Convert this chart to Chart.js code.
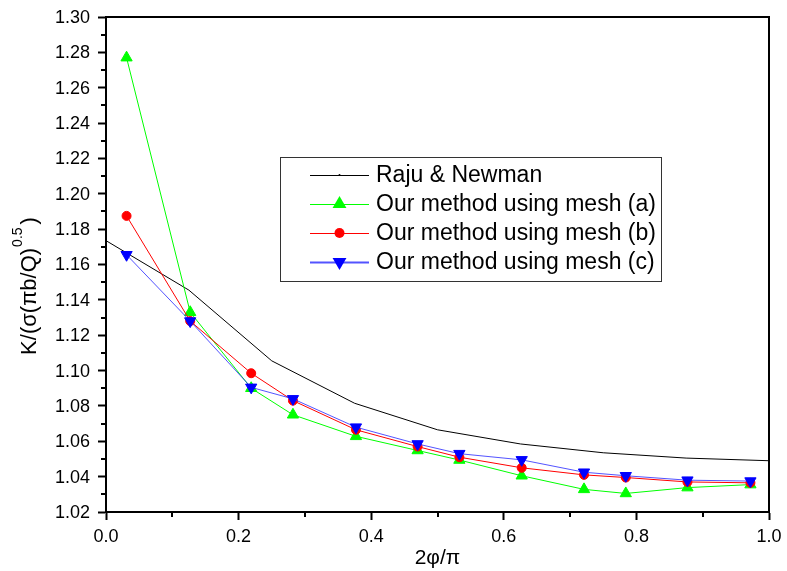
<!DOCTYPE html>
<html>
<head>
<meta charset="utf-8">
<script src="https://cdn.jsdelivr.net/npm/chart.js@4"></script>
<style>
  body { margin: 0; background: #fff; }
</style>
</head>
<body>
<canvas id="myChart" width="787" height="571"></canvas>
<script>
// data
const rajuX = [0, 0.125, 0.25, 0.375, 0.5, 0.625, 0.75, 0.875, 1.0];
const rajuK = [1.1735, 1.1455, 1.1055, 1.0815, 1.0665, 1.0585, 1.0535, 1.0505, 1.049];

const meshX = [0.031, 0.127, 0.219, 0.282, 0.377, 0.470, 0.533, 0.627, 0.721, 0.784, 0.877, 0.972];
const meshA = [1.277, 1.133, 1.090, 1.075, 1.0628, 1.0548, 1.0494, 1.0405, 1.0328, 1.0305, 1.0338, 1.0355];
const meshB = [1.1875, 1.128, 1.0985, 1.083, 1.0665, 1.057, 1.051, 1.045, 1.041, 1.0395, 1.037, 1.0365];
const meshC = [1.1655, 1.128, 1.0905, 1.084, 1.068, 1.0585, 1.053, 1.0495, 1.0425, 1.0405, 1.038, 1.0375];

const seriesNames = ['Raju & Newman', 'Our method using mesh (a)', 'Our method using mesh (b)', 'Our method using mesh (c)'];
const xTitle = '2\u03c6/\u03c0';

const FONT = '"Liberation Sans", Arial, sans-serif';
Chart.defaults.font.family = FONT;
Chart.defaults.color = '#000';

function pts(xs, ys) {
    return xs.map((x, i) => ({x: x, y: ys[i]}));
}

// frame, tick labels, minor ticks, axis titles, legend box
const extras = {
    id: 'extras',
    afterDraw(chart) {
        const c = chart.ctx;
        const a = chart.chartArea;
        const xs = chart.scales.x, ys = chart.scales.y;
        c.save();
        c.strokeStyle = '#000';
        c.lineWidth = 2;
        c.beginPath();
        c.moveTo(a.left - 1, a.top);
        c.lineTo(a.right, a.top);
        c.lineTo(a.right, a.bottom);
        c.stroke();

        // minor ticks
        c.lineWidth = 2;
        c.beginPath();
        for (let i = 0; i < 14; i++) {
            const py = Math.round(ys.getPixelForValue(1.03 + 0.02 * i));
            c.moveTo(a.left, py);
            c.lineTo(a.left - 5, py);
        }
        for (let i = 0; i < 5; i++) {
            const px = Math.round(xs.getPixelForValue(0.1 + 0.2 * i));
            c.moveTo(px, a.bottom);
            c.lineTo(px, a.bottom + 5);
        }
        c.stroke();

        // tick labels
        c.fillStyle = '#000';
        c.font = '18px ' + FONT;
        c.textAlign = 'right';
        c.textBaseline = 'middle';
        ys.ticks.forEach(t => {
            c.fillText(t.value.toFixed(2), a.left - 16, ys.getPixelForValue(t.value) + 1);
        });
        c.textAlign = 'center';
        xs.ticks.forEach(t => {
            c.fillText(t.value.toFixed(1), xs.getPixelForValue(t.value), 537);
        });

        // x title
        c.font = '21px ' + FONT;
        c.fillText(xTitle, (a.left + a.right) / 2, 558);

        // y title with superscript
        const base = 'K/(\u03c3(\u03c0b/Q)';
        const sup = '0.5';
        const end = ')';
        c.font = '22px ' + FONT;
        const w1 = c.measureText(base).width;
        const w3 = c.measureText(end).width;
        c.font = '14px ' + FONT;
        const w2 = c.measureText(sup).width;
        const total = w1 + w2 + w3 + 4;
        c.translate(28, 286);
        c.rotate(-Math.PI / 2);
        c.textAlign = 'left';
        c.textBaseline = 'alphabetic';
        let tx = -total / 2;
        c.font = '22px ' + FONT;
        c.fillText(base, tx, 8);
        tx += w1 + 1;
        c.font = '14px ' + FONT;
        c.fillText(sup, tx, -6);
        tx += w2 + 3;
        c.font = '22px ' + FONT;
        c.fillText(end, tx, 8);
        c.restore();

        // legend
        c.save();
        c.strokeStyle = '#333';
        c.lineWidth = 1;
        c.strokeRect(280.5, 157.5, 381, 124);
        const rows = [175, 204, 233, 262];
        chart.data.datasets.forEach((ds, i) => {
            const y = rows[i];
            c.strokeStyle = ds.borderColor;
            c.lineWidth = i === 3 ? 2 : 1;
            c.beginPath();
            c.moveTo(310, y + 0.5);
            c.lineTo(369, y + 0.5);
            c.stroke();
            c.fillStyle = ds.pointBackgroundColor;
            c.beginPath();
            if (i === 0) {
                c.arc(339.5, y, 1, 0, Math.PI * 2);
            } else if (ds.pointStyle === 'circle') {
                c.arc(339.5, y, 5, 0, Math.PI * 2);
            } else {
                const r = 8;
                const dir = ds.rotation === 180 ? -1 : 1;
                c.moveTo(339.5, y - dir * r);
                c.lineTo(339.5 + r * 0.866, y + dir * r * 0.5);
                c.lineTo(339.5 - r * 0.866, y + dir * r * 0.5);
                c.closePath();
            }
            c.fill();
            c.fillStyle = '#000';
            c.font = '23px ' + FONT;
            c.textAlign = 'left';
            c.textBaseline = 'middle';
            c.fillText(seriesNames[i], 376, y + 1);
        });
        c.restore();
    }
};

const ctx = document.getElementById('myChart').getContext('2d');
const myChart = new Chart(ctx, {
    type: 'scatter',
    data: {
        datasets: [{
            label: seriesNames[0],
            data: pts(rajuX, rajuK),
            showLine: true,
            borderColor: '#000000',
            pointBackgroundColor: '#000000',
            borderWidth: 1,
            pointRadius: 0,
            order: 3
        }, {
            label: seriesNames[1],
            data: pts(meshX, meshA),
            showLine: true,
            borderColor: '#00ff00',
            pointBackgroundColor: '#00ff00',
            pointBorderColor: '#00ff00',
            borderWidth: 1,
            pointStyle: 'triangle',
            pointRadius: 6.5,
            order: 2
        }, {
            label: seriesNames[2],
            data: pts(meshX, meshB),
            showLine: true,
            borderColor: '#ff0000',
            pointBackgroundColor: '#ff0000',
            pointBorderColor: '#ff0000',
            borderWidth: 1,
            pointStyle: 'circle',
            pointRadius: 4.5,
            order: 1
        }, {
            label: seriesNames[3],
            data: pts(meshX, meshC),
            showLine: true,
            borderColor: 'rgba(40,40,255,0.8)',
            pointBackgroundColor: '#0000ff',
            pointBorderColor: '#0000ff',
            borderWidth: 1,
            pointStyle: 'triangle',
            rotation: 180,
            pointRadius: 6.5,
            order: 0
        }]
    },
    options: {
        responsive: false,
        animation: false,
        layout: { padding: { left: 0, top: 17, right: 18, bottom: 0 } },
        plugins: {
            legend: { display: false },
            tooltip: { enabled: false }
        },
        scales: {
            x: {
                type: 'linear',
                min: 0,
                max: 1,
                ticks: { stepSize: 0.2, display: false },
                grid: { drawOnChartArea: false, tickLength: 8, tickWidth: 2, tickColor: '#000' },
                border: { color: '#000', width: 2 },
                afterFit: s => { s.height = 59; }
            },
            y: {
                min: 1.02,
                max: 1.30,
                ticks: { stepSize: 0.02, display: false },
                grid: { drawOnChartArea: false, tickLength: 8, tickWidth: 2, tickColor: '#000' },
                border: { color: '#000', width: 2 },
                afterFit: s => { s.width = 106; }
            }
        }
    },
    plugins: [extras]
});
</script>
</body>
</html>
